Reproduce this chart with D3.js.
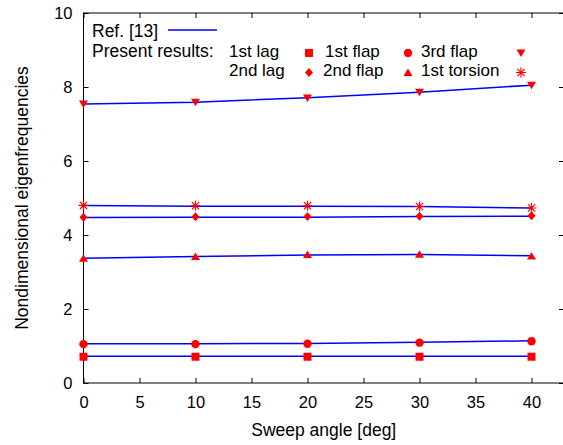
<!DOCTYPE html>
<html>
<head>
<meta charset="utf-8">
<script src="https://cdn.jsdelivr.net/npm/d3@7"></script>
<style>
    body { margin: 0; background: #fff; }
    text { font-family: "Liberation Sans", Arial, sans-serif; }
</style>
</head>
<body>
<script>
// sweep angles and the six modes
var sweep = [0, 10, 20, 30, 40];
var lag1 = [0.71, 0.71, 0.71, 0.71, 0.71];
var flap1 = [1.05, 1.05, 1.06, 1.09, 1.13];
var flap3 = [7.54, 7.59, 7.70, 7.86, 8.05];
var lag2 = [4.48, 4.49, 4.50, 4.51, 4.52];
var flap2 = [3.37, 3.42, 3.47, 3.48, 3.43];
var torsion1 = [4.80, 4.79, 4.79, 4.77, 4.73];

// Ref. [13] curves
var refLag1 = [0.72, 0.72, 0.72, 0.72, 0.72];
var refFlap1 = [1.06, 1.06, 1.07, 1.10, 1.14];
var refFlap3 = [7.54, 7.59, 7.71, 7.86, 8.05];
var refLag2 = [4.47, 4.48, 4.48, 4.50, 4.51];
var refFlap2 = [3.37, 3.42, 3.46, 3.47, 3.44];
var refTorsion1 = [4.80, 4.78, 4.78, 4.77, 4.73];

var xTicks = [0, 5, 10, 15, 20, 25, 30, 35, 40];
var yTicks = [0, 2, 4, 6, 8, 10];

var W = 563, H = 445;
var FS = 17.5;
var svg = d3.select("body").append("svg")
    .attr("width", W)
    .attr("height", H);

var x = d3.scaleLinear().domain([0, 42.9]).range([83.5, 564]);
var y = d3.scaleLinear().domain([0, 10]).range([383, 13]);

// frame
svg.append("rect")
    .attr("x", x(0)).attr("y", y(10))
    .attr("width", x(42.9) - x(0)).attr("height", y(0) - y(10))
    .attr("fill", "none").attr("stroke", "#000").attr("stroke-width", 1);

// axes, ticks inward
var tickLen = 5;
svg.append("g")
    .attr("transform", "translate(0," + y(0) + ")")
    .call(d3.axisBottom(x).tickValues(xTicks).tickSizeInner(-tickLen)
        .tickSizeOuter(0).tickPadding(13))
    .call(function(g) { g.select(".domain").remove(); });
svg.append("g")
    .attr("transform", "translate(0," + y(10) + ")")
    .call(d3.axisTop(x).tickValues(xTicks).tickSizeInner(-tickLen)
        .tickSizeOuter(0).tickFormat(""))
    .call(function(g) { g.select(".domain").remove(); });
svg.append("g")
    .attr("transform", "translate(" + x(0) + ",0)")
    .call(d3.axisLeft(y).tickValues(yTicks).tickSizeInner(-tickLen)
        .tickSizeOuter(0).tickPadding(11))
    .call(function(g) { g.select(".domain").remove(); });
svg.append("g")
    .attr("transform", "translate(" + x(42.9) + ",0)")
    .call(d3.axisRight(y).tickValues(yTicks).tickSizeInner(-tickLen)
        .tickSizeOuter(0).tickFormat(""))
    .call(function(g) { g.select(".domain").remove(); });

svg.selectAll(".tick text")
    .attr("font-size", 16.5)
    .attr("fill", "#000")
    .style("font-family", "'Liberation Sans', Arial, sans-serif");

// axis titles
svg.append("text")
    .attr("x", (x(0) + x(42.9)) / 2)
    .attr("y", 436)
    .attr("text-anchor", "middle")
    .attr("font-size", FS)
    .text("Sweep angle [deg]");
svg.append("text")
    .attr("transform", "translate(28," + (y(5)) + ") rotate(-90)")
    .attr("text-anchor", "middle")
    .attr("font-size", FS)
    .text("Nondimensional eigenfrequencies");

// reference lines
var line = d3.line()
    .x(function(d, i) { return x(sweep[i]); })
    .y(function(d) { return y(d); });
[refLag1, refFlap1, refFlap3, refLag2, refFlap2, refTorsion1]
    .forEach(function(s) {
        svg.append("path")
            .datum(s)
            .attr("d", line)
            .attr("fill", "none")
            .attr("stroke", "#0000ff")
            .attr("stroke-width", 1.5);
    });

// marker shapes
var red = "#ff0000";
function marker(g, kind) {
    if (kind == "square") {
        g.append("rect").attr("x", -4).attr("y", -4)
            .attr("width", 8).attr("height", 8).attr("fill", red);
    } else if (kind == "circle") {
        g.append("circle").attr("r", 4.2).attr("fill", red);
    } else if (kind == "down") {
        g.append("path").attr("d", "M-4.5,-3.5L4.5,-3.5L0,4Z")
            .attr("fill", red);
    } else if (kind == "diamond") {
        g.append("path").attr("d", "M0,-4.5L4,0L0,4.5L-4,0Z")
            .attr("fill", red);
    } else if (kind == "up") {
        g.append("path").attr("d", "M-4.5,3.5L4.5,3.5L0,-4Z")
            .attr("fill", red);
    } else if (kind == "star") {
        g.append("path")
            .attr("d", "M-5,0L5,0M0,-5L0,5M-3.6,-3.6L3.6,3.6M-3.6,3.6L3.6,-3.6")
            .attr("stroke", red).attr("stroke-width", 1.2)
            .attr("fill", "none");
    }
}

var series = [
    {name: "1st lag", vals: lag1, kind: "square"},
    {name: "1st flap", vals: flap1, kind: "circle"},
    {name: "3rd flap", vals: flap3, kind: "down"},
    {name: "2nd lag", vals: lag2, kind: "diamond"},
    {name: "2nd flap", vals: flap2, kind: "up"},
    {name: "1st torsion", vals: torsion1, kind: "star"}
];

series.forEach(function(s) {
    s.vals.forEach(function(v, i) {
        var g = svg.append("g")
            .attr("transform", "translate(" + x(sweep[i]) + "," + y(v) + ")");
        marker(g, s.kind);
    });
});

// legend
var LFS = 17;
svg.append("text").attr("x", 92).attr("y", 37).attr("font-size", FS)
    .text("Ref. [13]");
svg.append("line").attr("x1", 168).attr("x2", 217)
    .attr("y1", 30).attr("y2", 30)
    .attr("stroke", "#0000ff").attr("stroke-width", 1.5);
svg.append("text").attr("x", 92).attr("y", 56.5).attr("font-size", FS)
    .text("Present results:");

var legX = [229, 325, 421];
var symX = [309, 408, 521];
var rowY = [56.5, 76];
series.forEach(function(s, k) {
    var col = k % 3, row = Math.floor(k / 3);
    svg.append("text")
        .attr("x", legX[col] - (row == 1 && col == 1 ? 2 : 0))
        .attr("y", rowY[row])
        .attr("font-size", LFS)
        .text(s.name);
    var g = svg.append("g")
        .attr("transform", "translate(" + symX[col] + "," + (rowY[row] - 3.5) + ")");
    marker(g, s.kind);
});
</script>
</body>
</html>
